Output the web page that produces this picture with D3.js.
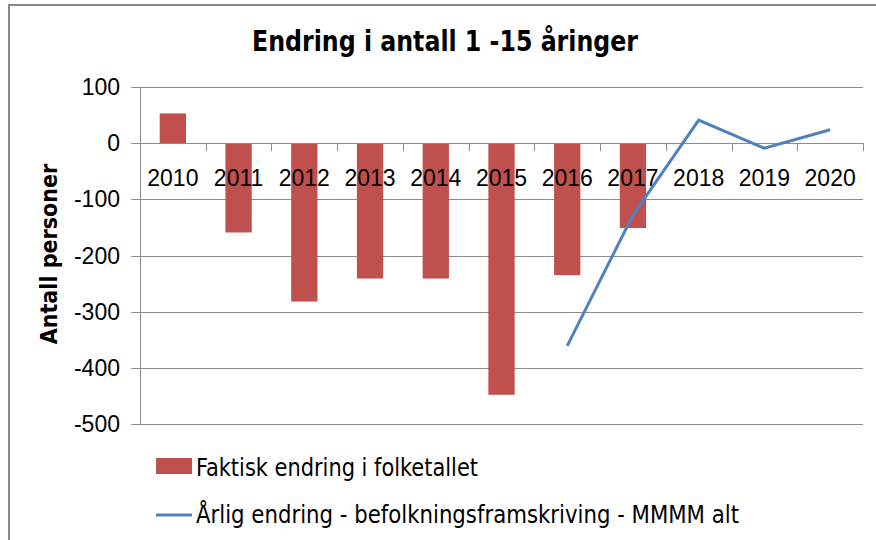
<!DOCTYPE html>
<html>
<head>
<meta charset="utf-8">
<script src="https://cdn.jsdelivr.net/npm/d3@7"></script>
<style>
  body { margin: 0; background: #fff; }
  svg text { font-family: "Liberation Sans Narrow", "DejaVu Sans Condensed", sans-serif; fill: #000; }
  .num { font-family: "Liberation Sans", Arial, sans-serif; }
</style>
</head>
<body>
<div id="chart"></div>
<script>
const years = ["2010", "2011", "2012", "2013", "2014", "2015", "2016", "2017", "2018", "2019", "2020"];
const actual = [53, -159, -282, -241, -241, -448, -235, -151, null, null, null];
const projection = [null, null, null, null, null, null, -361, -128, 41, -9, 24];
const yTicks = [100, 0, -100, -200, -300, -400, -500];

const W = 876, H = 540;
const margin = { top: 87, right: 13, bottom: 116, left: 140 };

const svg = d3.select("#chart")
    .append("svg")
    .attr("width", W)
    .attr("height", H);

// outer chart frame (right/bottom edges cut off in the original)
svg.append("path")
    .attr("d", "M9,540 V5 H876")
    .attr("fill", "none")
    .attr("stroke", "#8a8a8a")
    .attr("stroke-width", 2);

const x = d3.scaleBand()
    .domain(years)
    .range([margin.left, W - margin.right]);

const y = d3.scaleLinear()
    .domain([-500, 100])
    .range([H - margin.bottom, margin.top]);

// gridlines
svg.append("g")
    .selectAll("line")
    .data(yTicks)
    .join("line")
    .attr("x1", margin.left - 9)
    .attr("x2", W - margin.right)
    .attr("y1", d => Math.round(y(d)) + 0.5)
    .attr("y2", d => Math.round(y(d)) + 0.5)
    .attr("stroke", "#8c8c8c")
    .attr("stroke-width", 1);

// y axis line
svg.append("line")
    .attr("x1", margin.left + 0.5)
    .attr("x2", margin.left + 0.5)
    .attr("y1", y(100))
    .attr("y2", y(-500))
    .attr("stroke", "#8c8c8c");

// y tick labels
svg.append("g")
    .selectAll("text")
    .data(yTicks)
    .join("text")
    .attr("class", "num")
    .attr("x", margin.left - 20)
    .attr("y", d => y(d))
    .attr("dy", "0.35em")
    .attr("text-anchor", "end")
    .style("font-size", "23px")
    .text(d => d);

// bars
svg.append("g")
    .selectAll("rect")
    .data(years.map((d, i) => ({ year: d, v: actual[i] })).filter(d => d.v !== null))
    .join("rect")
    .attr("x", d => x(d.year) + x.bandwidth() * 0.3)
    .attr("width", x.bandwidth() * 0.4)
    .attr("y", d => y(Math.max(0, d.v)))
    .attr("height", d => Math.abs(y(d.v) - y(0)))
    .attr("fill", "#C0504D");

// x axis (zero line + ticks between categories)
svg.append("line")
    .attr("x1", margin.left)
    .attr("x2", W - margin.right)
    .attr("y1", Math.round(y(0)) + 0.5)
    .attr("y2", Math.round(y(0)) + 0.5)
    .attr("stroke", "#8c8c8c");

svg.append("g")
    .selectAll("line")
    .data(years.slice(1).map(d => x(d)).concat([W - margin.right]))
    .join("line")
    .attr("x1", d => Math.round(d) + 0.5)
    .attr("x2", d => Math.round(d) + 0.5)
    .attr("y1", y(0))
    .attr("y2", y(0) + 8)
    .attr("stroke", "#8c8c8c");

svg.append("g")
    .selectAll("text")
    .data(years)
    .join("text")
    .attr("class", "num")
    .attr("x", d => x(d) + x.bandwidth() / 2)
    .attr("y", y(0) + 43)
    .attr("text-anchor", "middle")
    .style("font-size", "23px")
    .text(d => d);

// projection line
const line = d3.line()
    .defined(d => d.v !== null)
    .x(d => x(d.year) + x.bandwidth() / 2)
    .y(d => y(d.v));

svg.append("path")
    .datum(years.map((d, i) => ({ year: d, v: projection[i] })))
    .attr("d", line)
    .attr("fill", "none")
    .attr("stroke", "#4F81BD")
    .attr("stroke-width", 3);

// title
svg.append("text")
    .attr("x", 445)
    .attr("y", 51)
    .attr("text-anchor", "middle")
    .attr("textLength", 386)
    .attr("lengthAdjust", "spacingAndGlyphs")
    .style("font-size", "29px")
    .style("font-weight", "bold")
    .text("Endring i antall 1 -15 åringer");

// y axis title
svg.append("text")
    .attr("transform", "translate(57,254) rotate(-90)")
    .attr("text-anchor", "middle")
    .style("font-size", "23px")
    .style("font-weight", "bold")
    .text("Antall personer");

// legend
const legend = svg.append("g");
legend.append("rect")
    .attr("x", 156).attr("y", 458)
    .attr("width", 36).attr("height", 16)
    .attr("fill", "#C0504D");
legend.append("text")
    .attr("x", 196).attr("y", 476)
    .style("font-size", "24px")
    .attr("textLength", 282)
    .attr("lengthAdjust", "spacingAndGlyphs")
    .text("Faktisk endring i folketallet");
legend.append("line")
    .attr("x1", 156).attr("x2", 192)
    .attr("y1", 515).attr("y2", 515)
    .attr("stroke", "#4F81BD")
    .attr("stroke-width", 3);
legend.append("text")
    .attr("x", 196).attr("y", 523)
    .style("font-size", "24px")
    .attr("textLength", 543)
    .attr("lengthAdjust", "spacingAndGlyphs")
    .text("Årlig endring - befolkningsframskriving - MMMM alt");
</script>
</body>
</html>
